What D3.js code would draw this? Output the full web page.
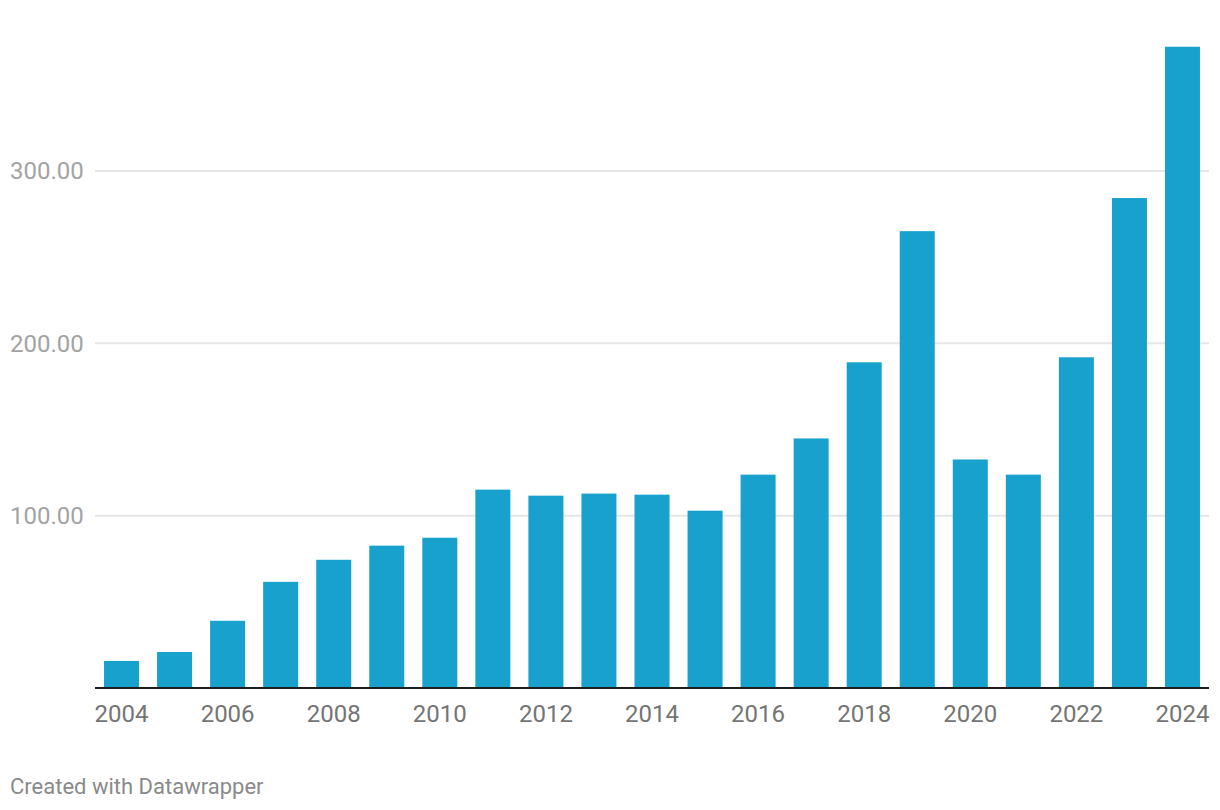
<!DOCTYPE html>
<html>
<head>
<meta charset="utf-8">
<script src="https://cdn.jsdelivr.net/npm/d3@7"></script>
<style>
  body { margin: 0; background: #fff; }
  text { font-family: Roboto, sans-serif; }
</style>
</head>
<body>
<div id="chart"></div>
<script>
// values
const years = ['2004','2005','2006','2007','2008','2009','2010','2011','2012','2013','2014',
  '2015','2016','2017','2018','2019','2020','2021','2022','2023','2024'];
const values = [15.7, 20.9, 39.0, 61.6, 74.4, 82.6, 87.2, 115.1, 111.6, 112.8, 112.2,
  102.9, 123.8, 144.8, 189.0, 265.1, 132.6, 123.8, 191.9, 284.3, 372.1];
const yTicks = [100, 200, 300];
const xLabels = ['2004','2006','2008','2010','2012','2014','2016','2018','2020','2022','2024'];

const W = 1220, H = 810;

const svg = d3.select('#chart')
  .append('svg')
  .attr('width', W)
  .attr('height', H);

const x = d3.scaleBand()
  .domain(years)
  .range([95, 1209])
  .paddingInner(0.34)
  .paddingOuter(0.17);

const y = d3.scaleLinear()
  .domain([0, 300])
  .range([688, 171]);

// gridlines
svg.append('g')
  .selectAll('line')
  .data(yTicks)
  .join('line')
  .attr('x1', 95)
  .attr('x2', 1209)
  .attr('y1', d => y(d))
  .attr('y2', d => y(d))
  .attr('stroke', '#e6e6e6')
  .attr('stroke-width', 2);

// y labels
svg.append('g')
  .selectAll('text')
  .data(yTicks)
  .join('text')
  .attr('x', 10)
  .attr('y', d => y(d))
  .attr('dy', '0.35em')
  .style('font-size', '24px')
  .attr('fill', '#a3a3a3')
  .text(d => d3.format('.2f')(d));

// bars
svg.append('g')
  .selectAll('rect')
  .data(values)
  .join('rect')
  .attr('x', (d, i) => x(years[i]))
  .attr('width', x.bandwidth())
  .attr('y', d => y(d))
  .attr('height', d => y(0) - y(d))
  .attr('fill', '#18a1cd');

// baseline
svg.append('line')
  .attr('x1', 95)
  .attr('x2', 1209)
  .attr('y1', y(0))
  .attr('y2', y(0))
  .attr('stroke', '#1d1d1d')
  .attr('stroke-width', 2);

// x labels
svg.append('g')
  .selectAll('text')
  .data(xLabels)
  .join('text')
  .attr('x', d => x(d) + x.bandwidth() / 2)
  .attr('y', 722)
  .attr('text-anchor', 'middle')
  .style('font-size', '24px')
  .attr('fill', '#757575')
  .text(d => d);

// footer
svg.append('text')
  .attr('x', 10)
  .attr('y', 794)
  .style('font-size', '22px')
  .attr('fill', '#8a8a8a')
  .text('Created with Datawrapper');
</script>
</body>
</html>
